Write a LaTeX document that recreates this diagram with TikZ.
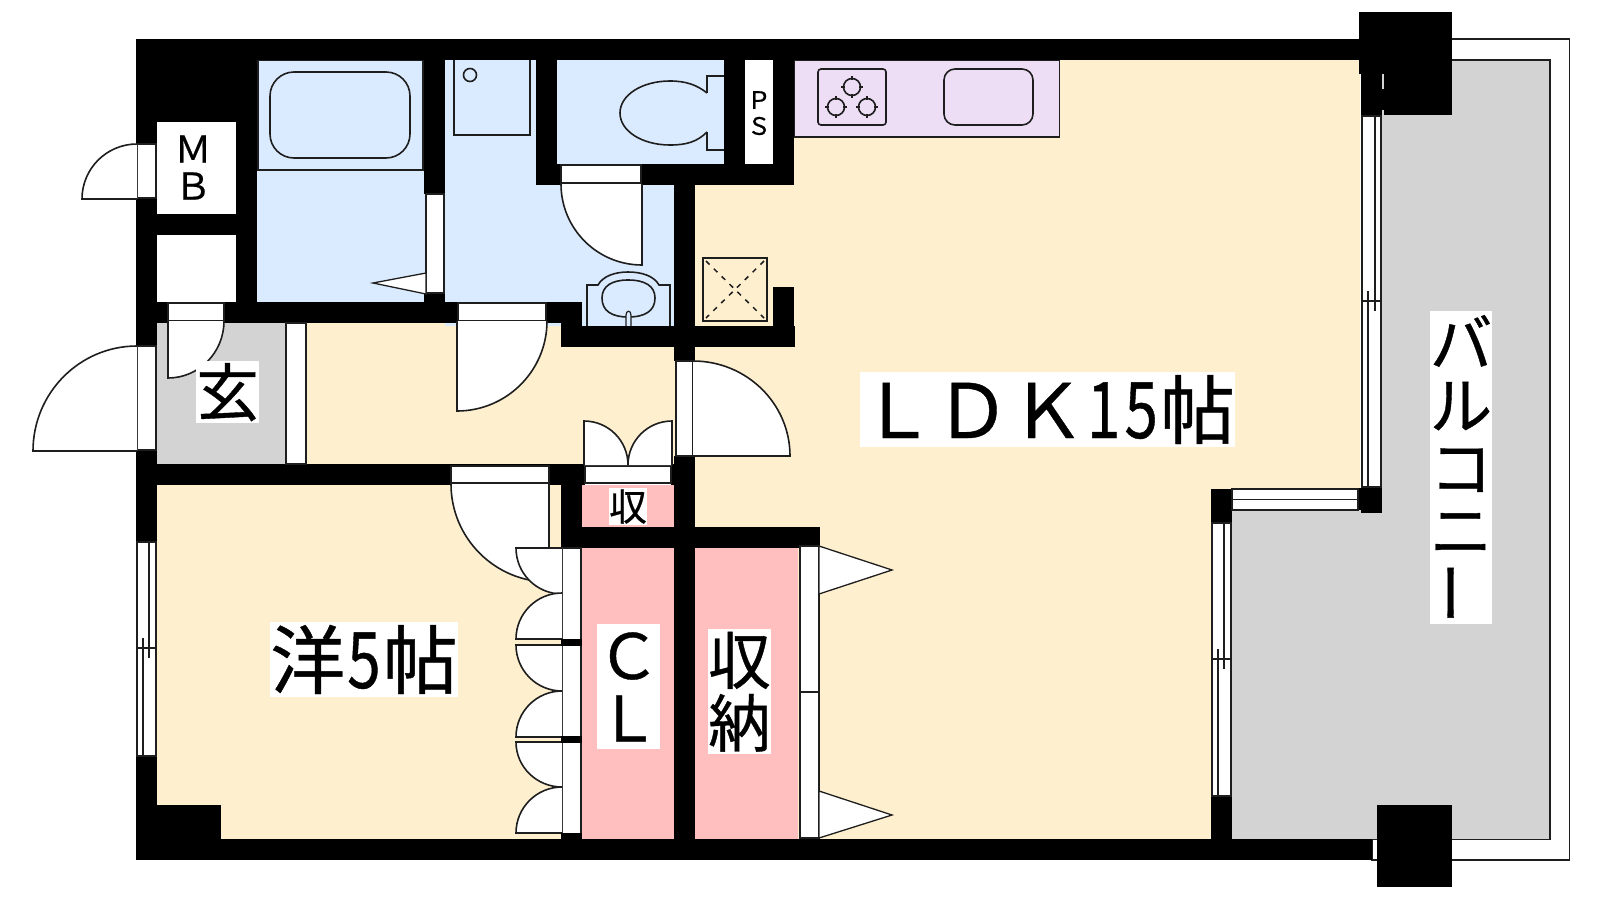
\documentclass[tikz,border=0pt]{standalone}
\usepackage{fontspec}
\setmainfont{Noto Sans CJK JP}[FakeBold=0.6]
\definecolor{creamc}{RGB}{254,240,207}
\definecolor{bluec}{RGB}{219,235,255}
\definecolor{lilacc}{RGB}{237,221,245}
\definecolor{pinkc}{RGB}{255,191,191}
\definecolor{grayc}{RGB}{211,211,211}
\definecolor{linec}{RGB}{30,30,30}
\tikzset{
  thinl/.style={draw=linec,line width=1.3pt},
  lbl/.style={fill=white,inner sep=0pt,text height=#1*0.88pt,text depth=#1*0.12pt,
    font=\fontsize{#1pt}{#1pt}\selectfont},
  plain/.style={inner sep=0pt,font=\fontsize{#1pt}{#1pt}\selectfont}
}
% wall: black rectangle
\newcommand\wall[4]{\fill[black] (#1,#2) rectangle (#3,#4);}
% frame: white rectangle with thin outline
\newcommand\frm[4]{\filldraw[fill=white,thinl] (#1,#2) rectangle (#3,#4);}
% door swing: P1, P2 (leaf end), centre
\newcommand\door[6]{%
  \fill[white] (#5,#6) -- (#1,#2) .. controls ({#1+.5523*(#3-#5)},{#2+.5523*(#4-#6)}) and ({#3+.5523*(#1-#5)},{#4+.5523*(#2-#6)}) .. (#3,#4) -- cycle;
  \draw[thinl,line width=1.6pt] (#1,#2) .. controls ({#1+.5523*(#3-#5)},{#2+.5523*(#4-#6)}) and ({#3+.5523*(#1-#5)},{#4+.5523*(#2-#6)}) .. (#3,#4) -- (#5,#6);}
% sliding window, vertical
\newcommand\vwin[7]{%
  \frm{#1}{#5}{#4}{#7}
  \draw[thinl] (#1,#6) -- (#4,#6);
  \draw[thinl] (#2,{#6-10}) -- (#2,#7);
  \draw[thinl] (#3,#5) -- (#3,{#6+10});}
\newcommand\burner[2]{%
  \draw[line width=1.6pt,linec] (#1,#2) circle[radius=8.5pt];
  \draw[line width=1.2pt,linec] (#1,{#2-11}) -- (#1,{#2-7}) (#1,{#2+7}) -- (#1,{#2+11})
    ({#1-11},#2) -- ({#1-7},#2) ({#1+7},#2) -- ({#1+11},#2);}
\newcommand\ndig[1]{\makebox[.5em]{\scalebox{.8}[1.04]{#1}}}
% one em-high cell of a vertical label
\newcommand\cellch[1]{\hbox to 1em{\hss\rule[-.12em]{0pt}{1em}#1\hss}}
\begin{document}
\begin{tikzpicture}[x=1pt,y=-1pt]
\useasboundingbox (0,0) rectangle (1600,900);
\fill[white] (0,0) rectangle (1600,900);

% ---------- balcony
\filldraw[fill=white,thinl] (1372,39) rectangle (1569.5,860);
\fill[grayc] (1382,60) -- (1550,60) -- (1550,839.5) -- (1232,839.5) -- (1232,510) -- (1382,510) -- cycle;
\draw[thinl] (1382,60) -- (1550,60) -- (1550,839.5) -- (1372,839.5);

% ---------- room fills
\fill[creamc] (695,60) -- (1360,60) -- (1360,489) -- (1211,489) -- (1211,839) -- (695,839) -- cycle;
\fill[creamc] (286,323) rectangle (676,466);
\fill[creamc] (157,485) rectangle (561,839);
\fill[grayc] (157,323) rectangle (286,464);
\fill[bluec] (257,60) rectangle (424,302);
\fill[bluec] (445,60) rectangle (724,164);
\fill[bluec] (445,164) rectangle (674,326);
\fill[white] (157,122) rectangle (236,214);
\fill[white] (157,235) rectangle (236,302);
\fill[white] (745,60) rectangle (773,164);
\filldraw[fill=lilacc,thinl] (794,60) rectangle (1059.5,137);
\fill[pinkc] (582,485) rectangle (674,527);
\fill[pinkc] (582,548) rectangle (674,839);
\fill[pinkc] (695,548) rectangle (798,839);

% ---------- fixtures
% bath
\draw[thinl] (258,60.5) rectangle (423,170);
\draw[line width=1.6pt,linec,rounded corners=24pt] (270,72) rectangle (410,158);
% washing machine pan
\draw[thinl] (454,60) -- (454,135) -- (530,135) -- (530,60);
\draw[line width=1.6pt,linec] (470,75) circle[radius=6.5pt];
% toilet
\draw[line width=1.6pt,linec] (707,93) .. controls (697,85) and (686,81) .. (670,81)
  .. controls (642,81) and (620,95) .. (620,113) .. controls (620,131) and (642,145) .. (670,145)
  .. controls (686,145) and (697,142) .. (707,132);
\draw[line width=1.6pt,linec] (724,76) -- (707,76) -- (707,93) (707,132) -- (707,150) -- (724,150);
% basin
\draw[line width=1.6pt,linec] (587,326) -- (587,285) -- (598,285) .. controls (603,276) and (615,272) .. (628,272)
  .. controls (642,272) and (654,276) .. (659,285) -- (670,285) -- (670,326);
\draw[line width=1.6pt,linec] (602,298) .. controls (602,286) and (612,280) .. (628,280)
  .. controls (645,280) and (655,286) .. (655,298) .. controls (655,311) and (645,317) .. (628,317)
  .. controls (612,317) and (602,311) .. (602,298);
\filldraw[fill=bluec,draw=linec,line width=1.2pt] (626,326) -- (626,315) .. controls (626,310) and (631,310) .. (631,315) -- (631,326);
% hatch square
\draw[line width=1.8pt,linec] (703,258) rectangle (767,321);
\draw[line width=1.5pt,linec,dash pattern=on 5pt off 6pt] (706,261) -- (764,318) (764,261) -- (706,318);
% kitchen
\draw[line width=1.6pt,linec,rounded corners=3pt] (818,69) rectangle (886,125);
\burner{852}{87}
\burner{836}{107}
\burner{867}{107}
\draw[line width=1.6pt,linec,rounded corners=11pt] (944,69) rectangle (1033,125);

% ---------- walls
\wall{136}{39}{1360}{60}
\wall{136}{39}{157}{464}
\wall{136}{39}{257}{122}
\wall{236}{60}{257}{323}
\wall{136}{214}{257}{235}
\wall{136}{302}{582}{323}
\wall{561}{323}{582}{347}
\wall{561}{326}{795}{347}
\wall{424}{60}{445}{323}
\wall{536}{60}{557}{185}
\wall{536}{164}{794}{185}
\wall{724}{60}{745}{164}
\wall{773}{60}{794}{185}
\wall{674}{185}{695}{361}
\wall{773}{287}{794}{326}
\wall{674}{456}{695}{860}
\wall{136}{464}{585}{485}
\wall{671}{464}{695}{485}
\wall{561}{464}{582}{548}
\wall{561}{527}{820}{548}
\wall{136}{464}{157}{542}
\wall{136}{756}{157}{860}
\wall{157}{805}{221}{839}
\wall{136}{839}{1372}{860}
\wall{1211}{796}{1232}{839}
\wall{1211}{489}{1232}{523}
% balcony columns
\wall{1359}{12}{1452}{74}
\wall{1361}{74}{1452}{115}
\wall{1361}{74}{1382}{116}
\fill[grayc] (1382,74) rectangle (1384,89);
\fill[grayc] (1382,110) rectangle (1384,116);
\wall{1361}{487}{1382}{513}
\wall{1358}{488}{1361}{510}
\wall{1377}{805}{1452}{887}

% ---------- door and window frames
\fill[bluec] (424,194) rectangle (445,293);
\frm{426}{194}{444}{293}
\filldraw[fill=white,thinl] (426,273) -- (373,283) -- (426,294) -- cycle;
\frm{137}{144}{156}{198}
\frm{137}{346}{156}{450}
\frm{168}{303}{224}{321}
\frm{286}{323}{306}{464}
\frm{458}{303}{546}{321}
\frm{561}{165}{641}{183}
\frm{676}{361}{693}{456}
\frm{585}{466}{671}{483}
\frm{451}{466}{549}{483}
\frm{800}{546}{819}{838}
\draw[thinl] (800,692) -- (819,692);
\filldraw[fill=white,thinl] (819,546) -- (892,570) -- (819,594) -- cycle;
\filldraw[fill=white,thinl] (819,791) -- (892,815) -- (819,838) -- cycle;
\frm{562}{548}{581}{838}

% ---------- door swings
\door{137}{144}{82}{199}{137}{199}
\door{137}{346}{33}{451}{137}{451}
\door{224}{321}{168}{378}{168}{321}
\door{547}{321}{457}{411}{457}{321}
\door{561}{184}{642}{265}{642}{184}
\door{693}{361}{790}{456}{693}{456}
\door{628}{465}{584}{421}{584}{465}
\door{628}{465}{672}{421}{672}{465}
\door{451}{484}{549}{582}{549}{484}
\door{562}{594}{516}{548}{562}{548}
\door{562}{593}{516}{639}{562}{639}
\door{562}{691}{516}{645}{562}{645}
\door{562}{691}{516}{737}{562}{737}
\door{562}{787}{516}{742}{562}{742}
\door{562}{787}{516}{833}{562}{833}
\wall{561}{639}{582}{646}
\wall{561}{736}{582}{743}
\wall{561}{833}{582}{839}

% ---------- windows
\vwin{137}{143}{149}{156}{542}{648}{756}
\vwin{1212}{1218}{1224}{1231}{523}{659}{796}
\vwin{1362}{1368}{1375}{1381}{116}{301}{487}
\frm{1232}{489}{1358}{510}
\draw[thinl] (1232,499.5) -- (1358,499.5);

% ---------- labels
\node[lbl=75] (ldk) at (1047.5,409.5) {ＬＤＫ\ndig{1}\ndig{5}帖};
\node[lbl=75] (yo) at (364,659.5) {洋\ndig{5}帖};
\node[lbl=62.5] (gen) at (227.5,392) {玄};
\node[lbl=37.5] (shu) at (628,506.5) {収};
\node[plain=62.5,fill=white] (cl) at (628.5,686.5) {\vbox{\offinterlineskip\cellch{Ｃ}\cellch{Ｌ}}};
\node[plain=62.5,fill=white] (nou) at (739.5,691.5) {\vbox{\offinterlineskip\cellch{収}\cellch{納}}};
\node[plain=62.5,fill=white] (bal) at (1461,467.5) {\vbox{\offinterlineskip\cellch{バ}\cellch{ル}\cellch{コ}\cellch{ニ}\cellch{\raisebox{.16em}[0pt][0pt]{\rotatebox[origin=c]{90}{ー}}}}};
\node[plain=37] (mbm) at (193,149) {Ｍ};
\node[plain=37] (mbb) at (193,186) {Ｂ};
\node[plain=24] (psp) at (759,100) {Ｐ};
\node[plain=24] (pss) at (759,126) {Ｓ};
\end{tikzpicture}
\end{document}
